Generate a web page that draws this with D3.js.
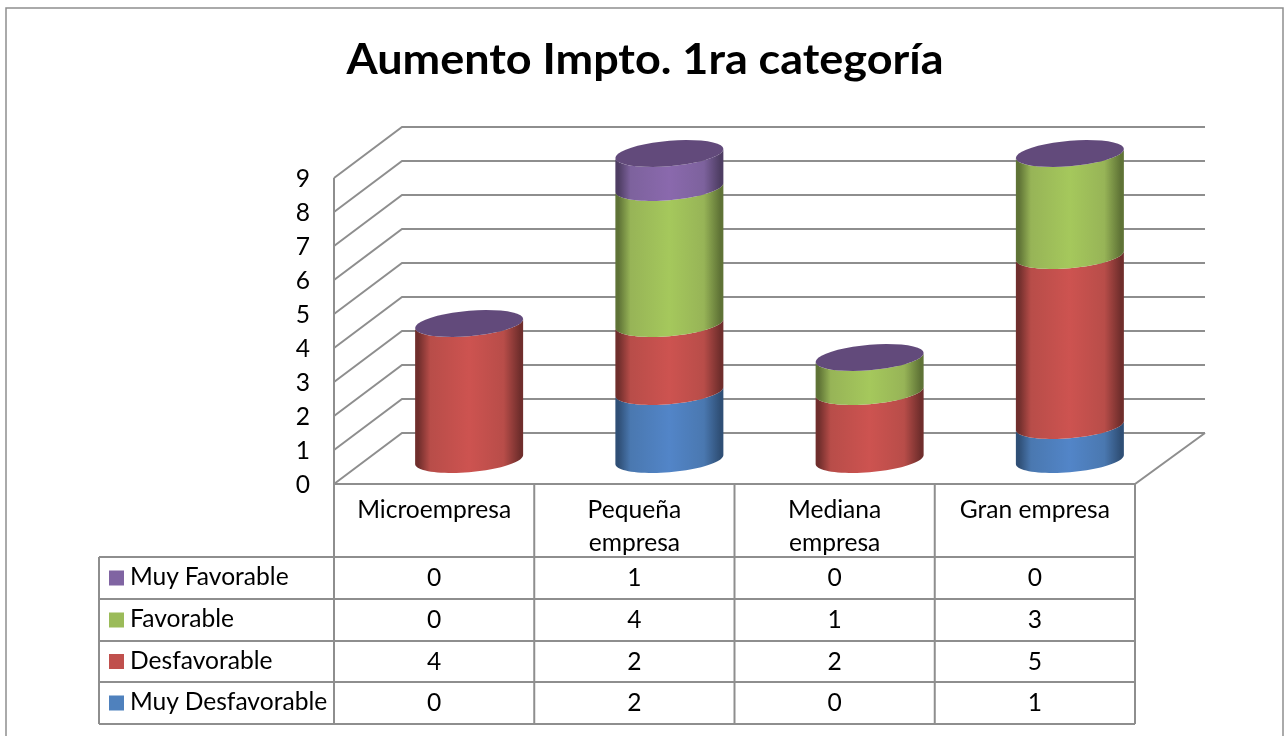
<!DOCTYPE html>
<html><head><meta charset="utf-8">
<script src="https://cdn.jsdelivr.net/npm/d3@7"></script>
<style>html,body{margin:0;padding:0;background:#fff;overflow:hidden}svg{display:block;filter:blur(0.35px)}text{font-family:Lato,"Noto Sans",sans-serif;fill:#000}</style>
</head><body><svg id="c" width="1286" height="736"></svg>
<script>
const titleText = "Aumento Impto. 1ra categoría";
const categories = ["Microempresa","Pequeña empresa","Mediana empresa","Gran empresa"];
const categoryLines = [["Microempresa"],["Pequeña","empresa"],["Mediana","empresa"],["Gran empresa"]];
const seriesNames = ["Muy Desfavorable","Desfavorable","Favorable","Muy Favorable"];
const muyDesfavorable = [0,2,0,1];
const desfavorable = [4,2,2,5];
const favorable = [0,4,1,3];
const muyFavorable = [0,1,0,0];
const yTicks = [0,1,2,3,4,5,6,7,8,9];
const seriesColors = ["#4f81bd","#c0504d","#9bbb59","#8064a2"];
const edgeColors = ["#2f4f76","#702e2c","#5f7336","#4e3d63"];
const midColors = ["#4a78b0","#b84d49","#97b457","#7d629d"];
const peakColors = ["#5285c8","#cd5350","#a5c85c","#8a69ad"];
const capColor = "#624a7b";
const gridColor = "#8e8e8e";

const svg = d3.select("#c");
const W = 1286, H = 736;
const frame = {l:6,t:8,r:1283};
const plot = {l:334,r:1135,y0:484,y9:178,dx:68,dy:51,backR:1205};
const x = d3.scaleBand().domain(categories).range([plot.l,plot.r]);
const y = d3.scaleLinear().domain([0,9]).range([plot.y0,plot.y9]);

// outer frame
svg.append("path").attr("d",`M${frame.l},${H}V${frame.t}H${frame.r}V${H}`)
  .attr("fill","none").attr("stroke",gridColor).attr("stroke-width",1.5);

// title
svg.append("text").attr("x",645).attr("y",73.5).attr("text-anchor","middle")
  .attr("font-size",42).attr("font-weight",700).attr("textLength",597).attr("lengthAdjust","spacingAndGlyphs").text(titleText);

// walls
const grid = svg.append("g").attr("fill","none").attr("stroke",gridColor).attr("stroke-width",2);
grid.selectAll(".g").data(yTicks).join("path")
  .attr("d",t=>`M${plot.l},${y(t)}L${plot.l+plot.dx},${y(t)-plot.dy}H${plot.backR}`);
grid.append("path").attr("d",`M${plot.l},${y(9)}V${y(0)}H${plot.r}L${plot.backR},${y(0)-plot.dy}`);

const fs = 24.6;

// y axis
const axis = d3.axisLeft(y).tickValues(yTicks).tickSize(0).tickPadding(0).tickFormat(d3.format("d"));
const ag = svg.append("g").attr("transform","translate(310,0)").call(axis);
ag.select(".domain").remove();
ag.selectAll("text").attr("font-size",fs).style("font-family","Lato,'Noto Sans',sans-serif").attr("fill","#000").attr("dy","0.36em");

// gradients
const defs = svg.append("defs");
seriesColors.forEach((c,i)=>{
  const g = defs.append("linearGradient").attr("id","grad"+i).attr("x1",0).attr("x2",1).attr("y1",0).attr("y2",0);
  [[0,edgeColors[i]],[0.03,edgeColors[i]],[0.14,midColors[i]],[0.5,peakColors[i]],[0.82,midColors[i]],[0.97,edgeColors[i]],[1,edgeColors[i]]]
    .forEach(s=>g.append("stop").attr("offset",s[0]).attr("stop-color",s[1]));
});

// cylinders
const stackRows = categories.map((c,i)=>({cat:c,
  [seriesNames[0]]:muyDesfavorable[i],[seriesNames[1]]:desfavorable[i],[seriesNames[2]]:favorable[i],[seriesNames[3]]:muyFavorable[i]}));
const stacked = d3.stack().keys(seriesNames)(stackRows);
const radius = 54, minor = 12.7, shear = 4.5/54, offX = 35, offY = 24.5;
const cx = c => x(c)+x.bandwidth()/2+offX;
const cyAt = v => y(v)-offY;
const line = d3.line();
const arcPts = (c,v,from,to) => d3.range(0,41).map(k=>{
  const a = from+(to-from)*k/40, px = radius*Math.cos(a);
  return [cx(c)+px, cyAt(v)-shear*px+minor*Math.sin(a)];
});
const bars = svg.append("g");
stacked.forEach((s,si)=>{
  bars.selectAll(null).data(s.filter(d=>d[1]>d[0])).join("path")
    .attr("fill",`url(#grad${si})`)
    .attr("d",d=>{
      const c=d.data.cat;
      return line([...arcPts(c,d[0],Math.PI,0),...arcPts(c,d[1],0,Math.PI)])+"Z";
    });
});
const totals = categories.map((c,i)=>({cat:c,total:muyDesfavorable[i]+desfavorable[i]+favorable[i]+muyFavorable[i]}));
bars.selectAll(".cap").data(totals).join("path").attr("fill",capColor)
  .attr("d",d=>line(arcPts(d.cat,d.total,0,Math.PI*2))+"Z");

// data table
const table = {l:99,head:557,rows:[557,599,641,682,724]};
const tableRows = [
  {name:seriesNames[3],vals:muyFavorable,color:seriesColors[3]},
  {name:seriesNames[2],vals:favorable,color:seriesColors[2]},
  {name:seriesNames[1],vals:desfavorable,color:seriesColors[1]},
  {name:seriesNames[0],vals:muyDesfavorable,color:seriesColors[0]}];
const tg = svg.append("g").attr("fill","none").attr("stroke",gridColor).attr("stroke-width",2);
tg.selectAll(".h").data(table.rows).join("path").attr("d",r=>`M${table.l},${r}H${plot.r}`);
tg.append("path").attr("d",`M${table.l},${table.rows[0]}V${table.rows[4]}`);
tg.selectAll(".v").data([...categories.map(c=>x(c)),plot.r]).join("path")
  .attr("d",v=>`M${v},${y(0)}V${table.rows[4]}`);

categories.forEach((c,i)=>{
  categoryLines[i].forEach((t,j)=>{
    svg.append("text").attr("x",x(c)+x.bandwidth()/2).attr("y",518+j*33).attr("text-anchor","middle")
      .attr("font-size",fs).text(t);
  });
});
tableRows.forEach((r,ri)=>{
  const mid=(table.rows[ri]+table.rows[ri+1])/2;
  svg.append("rect").attr("x",109).attr("y",mid-7.5).attr("width",15).attr("height",15).attr("fill",r.color);
  svg.append("text").attr("x",130).attr("y",mid+7).attr("font-size",fs).text(r.name);
  r.vals.forEach((v,i)=>{
    svg.append("text").attr("x",x(categories[i])+x.bandwidth()/2).attr("y",mid+8).attr("text-anchor","middle")
      .attr("font-size",fs).text(v);
  });
});
</script></body></html>
